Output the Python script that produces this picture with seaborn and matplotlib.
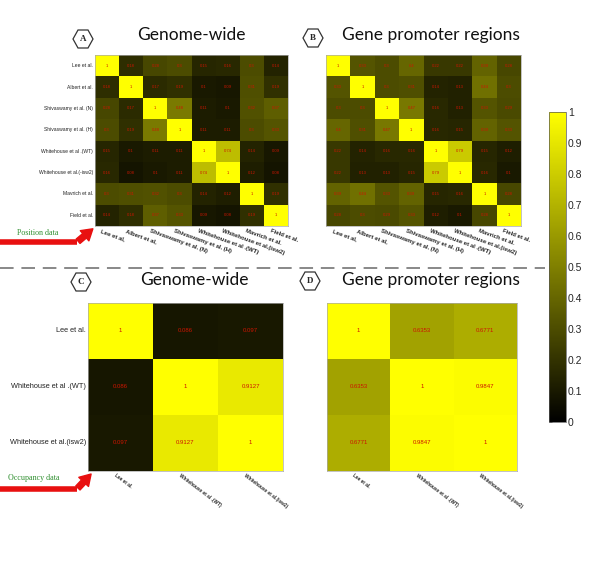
import matplotlib
matplotlib.use("Agg")
import matplotlib.pyplot as plt
import matplotlib.transforms as mtransforms
from matplotlib.colors import LinearSegmentedColormap
from matplotlib.patches import Polygon, FancyArrowPatch
from matplotlib.lines import Line2D
import seaborn as sns
import numpy as np

# position data (8 data sets)
pos_rows = ["Lee et al.", "Albert et al.", "Shivaswamy et al. (N)", "Shivaswamy et al. (H)",
            "Whitehouse et al .(WT)", "Whitehouse et al.(-isw2)", "Mavrich et al.", "Field et al."]
pos_cols = ["Lee et al,", "Albert et al,", "Shivaswamy et al. (N)", "Shivaswamy et al. (H)",
            "Whitehouse et al .(WT)", "Whitehouse et al.(isw2)", "Mavrich et al.", "Field et al."]

genome_pos = [
    [1, 0.18, 0.28, 0.30, 0.15, 0.16, 0.30, 0.14],
    [0.18, 1, 0.17, 0.19, 0.1, 0.09, 0.31, 0.19],
    [0.28, 0.17, 1, 0.48, 0.11, 0.1, 0.32, 0.37],
    [0.30, 0.19, 0.48, 1, 0.11, 0.11, 0.30, 0.33],
    [0.15, 0.1, 0.11, 0.11, 1, 0.74, 0.14, 0.09],
    [0.16, 0.08, 0.1, 0.11, 0.74, 1, 0.12, 0.08],
    [0.30, 0.31, 0.32, 0.30, 0.14, 0.12, 1, 0.19],
    [0.14, 0.18, 0.37, 0.33, 0.09, 0.08, 0.19, 1],
]
promoter_pos = [
    [1, 0.33, 0.30, 0.40, 0.22, 0.22, 0.39, 0.28],
    [0.33, 1, 0.30, 0.31, 0.14, 0.13, 0.44, 0.30],
    [0.30, 0.30, 1, 0.47, 0.16, 0.13, 0.33, 0.29],
    [0.40, 0.31, 0.47, 1, 0.16, 0.15, 0.39, 0.33],
    [0.22, 0.14, 0.16, 0.16, 1, 0.79, 0.15, 0.12],
    [0.22, 0.13, 0.13, 0.15, 0.79, 1, 0.16, 0.1],
    [0.39, 0.44, 0.33, 0.39, 0.15, 0.16, 1, 0.28],
    [0.28, 0.30, 0.29, 0.33, 0.12, 0.1, 0.28, 1],
]

# occupancy data (3 data sets)
occ_labels = ["Lee et al.", "Whitehouse et al .(WT)", "Whitehouse et al.(isw2)"]
genome_occ = [
    [1, 0.086, 0.097],
    [0.086, 1, 0.9127],
    [0.097, 0.9127, 1],
]
promoter_occ = [
    [1, 0.6353, 0.6771],
    [0.6353, 1, 0.9847],
    [0.6771, 0.9847, 1],
]

cbar_ticks = [0, 0.1, 0.2, 0.3, 0.4, 0.5, 0.6, 0.7, 0.8, 0.9, 1]

cmap = LinearSegmentedColormap.from_list("blackyellow", ["#000000", "#ffff00"])
W, H = 600, 567


def fx(px):
    return px / W


def fy(py):
    return 1 - py / H


def labels_for(m):
    return np.array([[f"{v:g}" for v in row] for row in m])


def draw(ax, m, ylabels, xlabels, annot_size, ylab_size, xlab_size, rot, xshift):
    arr = np.array(m, dtype=float)
    sns.heatmap(arr, ax=ax, cmap=cmap, vmin=0, vmax=1, cbar=False,
                annot=labels_for(m), fmt="",
                annot_kws={"color": "#cc1500", "fontsize": annot_size, "family": "Liberation Sans"},
                xticklabels=xlabels, yticklabels=ylabels if ylabels else False)
    ax.tick_params(length=0, pad=1.5)
    for s in ax.spines.values():
        s.set_visible(True)
        s.set_color("#aaaaaa")
        s.set_linewidth(0.5)
    if ylabels:
        for t in ax.get_yticklabels():
            t.set_rotation(0)
            t.set_fontsize(ylab_size)
            t.set_family("Liberation Sans")
            t.set_color("#222222")
    off = mtransforms.ScaledTranslation(xshift / 100, 0, ax.figure.dpi_scale_trans)
    for t in ax.get_xticklabels():
        t.set_rotation(rot)
        t.set_ha("left")
        t.set_va("top")
        t.set_rotation_mode("anchor")
        t.set_fontsize(xlab_size)
        t.set_family("Liberation Sans")
        t.set_fontweight("bold")
        t.set_transform(t.get_transform() + off)


def hexagon(fig, cx, cy, letter):
    w, h = 10, 9
    pts = [(cx - w, cy), (cx - w / 2, cy - h), (cx + w / 2, cy - h),
           (cx + w, cy), (cx + w / 2, cy + h), (cx - w / 2, cy + h)]
    fig.add_artist(Polygon([(fx(x), fy(y)) for x, y in pts], closed=True,
                           fill=False, edgecolor="#333333", linewidth=0.9,
                           transform=fig.transFigure))
    fig.text(fx(cx), fy(cy), letter, ha="center", va="center", fontsize=6.5,
             family="Liberation Serif", fontweight="bold")


def red_arrow(fig, y, x_end, tip):
    fig.add_artist(Line2D([fx(0), fx(x_end)], [fy(y), fy(y)], color="#e81010",
                          linewidth=4, solid_capstyle="butt", transform=fig.transFigure))
    fig.add_artist(FancyArrowPatch((fx(x_end - 1), fy(y + 1)), (fx(tip[0]), fy(tip[1])),
                                   transform=fig.transFigure, color="#e81010",
                                   arrowstyle="simple,head_width=1.6,head_length=1.3,tail_width=0.7",
                                   mutation_scale=6))


sns.set_theme(style="white")
fig = plt.figure(figsize=(6, 5.67), dpi=100)

axA = fig.add_axes([fx(95), fy(226), fx(288) - fx(95), fy(55) - fy(226)])
axB = fig.add_axes([fx(326), fy(226), fx(521) - fx(326), fy(55) - fy(226)])
axC = fig.add_axes([fx(88), fy(471), fx(283) - fx(88), fy(303) - fy(471)])
axD = fig.add_axes([fx(327), fy(471), fx(517) - fx(327), fy(303) - fy(471)])
cax = fig.add_axes([fx(549), fy(422), fx(566) - fx(549), fy(112) - fy(422)])

draw(axA, genome_pos, pos_rows, pos_cols, 3.0, 3.6, 4.3, -20, -5)
draw(axB, promoter_pos, None, pos_cols, 3.0, 3.6, 4.3, -20, -5)
draw(axC, genome_occ, occ_labels, occ_labels, 4.3, 5.3, 3.4, -37, -4)
draw(axD, promoter_occ, None, occ_labels, 4.3, 5.3, 3.4, -37, -4)

cb = fig.colorbar(axA.collections[0], cax=cax, ticks=cbar_ticks)
cb.ax.set_yticklabels([f"{t:g}" for t in cbar_ticks])
cb.ax.tick_params(labelsize=7.5, length=2, width=0.5, direction="in", pad=1.5,
                  left=True, right=False)
for t in cb.ax.get_yticklabels():
    t.set_family("Liberation Sans")
cb.outline.set_linewidth(0.5)
cb.outline.set_edgecolor("#555555")

# titles
title_kw = dict(ha="center", va="center", fontsize=12.5, family="Lato", color="#111111")
fig.text(fx(191), fy(35), "Genome-wide", **title_kw)
fig.text(fx(431), fy(35), "Gene promoter regions", **title_kw)
fig.text(fx(194), fy(280), "Genome-wide", **title_kw)
fig.text(fx(431), fy(280), "Gene promoter regions", **title_kw)

hexagon(fig, 83, 39, "A")
hexagon(fig, 313, 38, "B")
hexagon(fig, 81, 282, "C")
hexagon(fig, 310, 281, "D")

# separator
fig.add_artist(Line2D([0, fx(545)], [fy(268), fy(268)], color="#888888", linewidth=1.4,
                      linestyle=(0, (7, 4)), transform=fig.transFigure))

# data type markers
fig.text(fx(17), fy(233), "Position data", fontsize=5.8, family="Liberation Serif",
         color="#2f8f2f", va="center")
red_arrow(fig, 242, 77, (95, 227))
fig.text(fx(8), fy(478), "Occupancy data", fontsize=5.8, family="Liberation Serif",
         color="#2f8f2f", va="center")
red_arrow(fig, 489, 77, (93, 472))

fig.savefig("out.png", dpi=100)
